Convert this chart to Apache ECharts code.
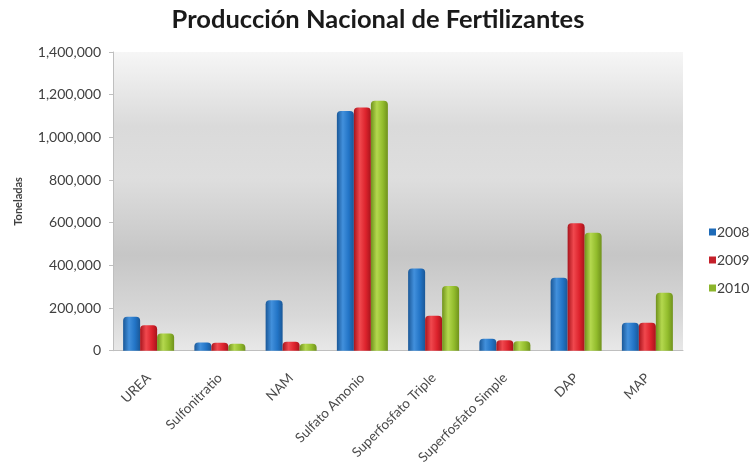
<!DOCTYPE html>
<html>
<head>
<meta charset="utf-8">
<script src="https://cdn.jsdelivr.net/npm/echarts@6/dist/echarts.min.js"></script>
<style>
  html, body { margin: 0; padding: 0; background: #ffffff; }
  #chart { width: 756px; height: 467px; }
</style>
</head>
<body>
<div id="chart"></div>
<script>
// Producción nacional de fertilizantes por producto (toneladas)
const categories = ['UREA', 'Sulfonitratio', 'NAM', 'Sulfato Amonio', 'Superfosfato Triple', 'Superfosfato Simple', 'DAP', 'MAP'];
const years = ['2008', '2009', '2010'];
const v2008 = [159000, 39000, 237000, 1124000, 386000, 56000, 342000, 131000];
const v2009 = [120000, 38000, 42000, 1140000, 164000, 49000, 597000, 131000];
const v2010 = [81000, 33000, 33000, 1171000, 303000, 45000, 553000, 272000];
const yTicks = [0, 200000, 400000, 600000, 800000, 1000000, 1200000, 1400000];

const FONT = 'Lato';

// Cylinder-like shading across each bar
function cyl(dark, mid, light) {
  return new echarts.graphic.LinearGradient(0, 0, 1, 0, [
    { offset: 0, color: dark },
    { offset: 0.35, color: light },
    { offset: 0.7, color: mid },
    { offset: 1, color: dark }
  ]);
}
const styles = [
  { legend: '#1e6bb8', fill: cyl('#1a5898', '#2274c6', '#4290dc') },
  { legend: '#c4202a', fill: cyl('#a8141c', '#dc222c', '#f0484e') },
  { legend: '#8cb52c', fill: cyl('#70921c', '#92bc2c', '#b4d84e') }
];
const values = [v2008, v2009, v2010];

const chart = echarts.init(document.getElementById('chart'), null, { renderer: 'canvas' });
chart.setOption({
  animation: false,
  backgroundColor: '#ffffff',
  title: {
    text: 'Producción Nacional de Fertilizantes',
    left: 'center',
    top: 2,
    textStyle: { fontFamily: FONT, fontWeight: 'bold', fontSize: 25.5, color: '#1a1a1a' }
  },
  legend: {
    orient: 'vertical',
    left: 704,
    top: 220,
    itemWidth: 7,
    itemHeight: 7,
    itemGap: 14,
    icon: 'rect',
    data: years.map((y, i) => ({ name: y, itemStyle: { color: styles[i].legend } })),
    textStyle: { fontFamily: FONT, fontSize: 14, color: '#404040', padding: [0, 0, 0, -4] }
  },
  grid: {
    left: 113,
    right: 73,
    top: 52,
    bottom: 116,
    show: true,
    borderWidth: 0,
    backgroundColor: new echarts.graphic.LinearGradient(0, 0, 0, 1, [
      { offset: 0, color: '#f6f6f6' },
      { offset: 0.25, color: '#dadada' },
      { offset: 0.42, color: '#dedede' },
      { offset: 0.68, color: '#c6c6c6' },
      { offset: 0.88, color: '#d8d8d8' },
      { offset: 1, color: '#e8e8e8' }
    ])
  },
  xAxis: {
    type: 'category',
    data: categories,
    axisLine: { show: true, lineStyle: { color: '#bfbfbf', width: 1 } },
    axisTick: { show: false },
    axisLabel: {
      rotate: 45,
      margin: 25,
      interval: 0,
      fontFamily: FONT,
      fontSize: 13.5,
      color: '#4a4a4a'
    }
  },
  yAxis: {
    type: 'value',
    min: yTicks[0],
    max: yTicks[yTicks.length - 1],
    interval: yTicks[1] - yTicks[0],
    name: 'Toneladas',
    nameLocation: 'middle',
    nameGap: 89,
    nameTextStyle: { fontFamily: FONT, fontWeight: 'bold', fontSize: 11, color: '#404040' },
    splitLine: { show: false },
    axisLine: { show: true, lineStyle: { color: '#bfbfbf' } },
    axisTick: { show: true, length: 4, lineStyle: { color: '#bfbfbf' } },
    axisLabel: {
      margin: 12,
      fontFamily: FONT,
      fontSize: 14,
      color: '#404040',
      formatter: v => v.toLocaleString('en-US')
    }
  },
  series: years.map((y, i) => ({
    name: y,
    type: 'bar',
    data: values[i],
    barWidth: 17,
    barGap: '0%',
    itemStyle: { color: styles[i].fill, borderRadius: [4, 4, 0, 0] }
  }))
});
</script>
</body>
</html>
